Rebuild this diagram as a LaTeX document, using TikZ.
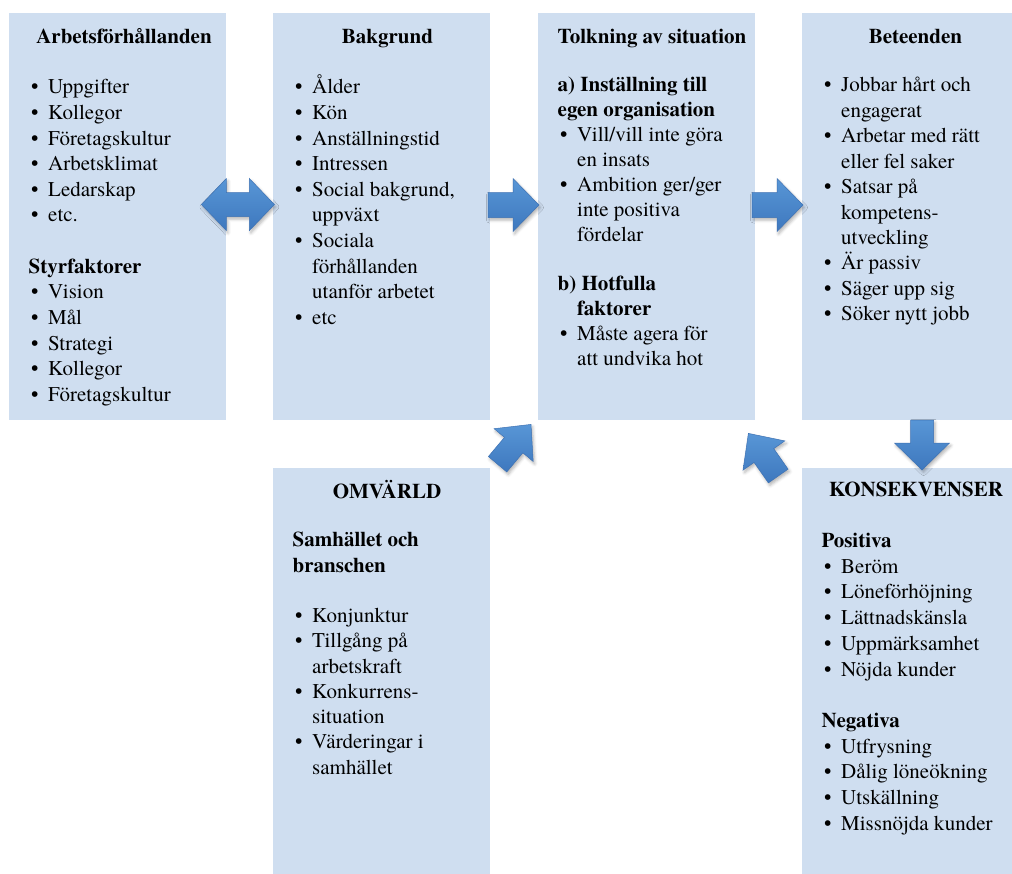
\documentclass[tikz,border=0pt]{standalone}
\usepackage{fontspec}
\setmainfont{texgyretermes}[Extension=.otf, UprightFont=*-regular, BoldFont=*-bold, ItalicFont=*-italic, BoldItalicFont=*-bolditalic]
\usetikzlibrary{calc,shadows.blur}
\definecolor{boxfill}{RGB}{207,222,240}
\definecolor{arrowtop}{RGB}{88,150,214}
\definecolor{arrowbot}{RGB}{62,120,190}
\definecolor{arrowedge}{RGB}{62,114,180}
\newcommand\bfs[1]{\fontsize{21}{#1}\selectfont}
\newcommand\bu{\hspace*{2.5pt}\makebox[17pt][l]{\textbullet}}
\newcommand\ct{\hspace*{19.5pt}}
\newcommand\fr{\rule{0pt}{22pt}}
% tip, angle, length, head length, head half width, shaft half width
\newcommand\blockarrow[6]{%
  \path[barrow, shift={(#1)}, rotate=#2] (0,0) -- (-#4,#5) -- (-#4,#6) -- (-#3,#6)
    -- (-#3,-#6) -- (-#4,-#6) -- (-#4,-#5) -- cycle;}
\begin{document}
\begin{tikzpicture}[x=1pt,y=-1pt,
  box/.style={fill=boxfill, draw=none, inner sep=0pt, anchor=north west, minimum width=217pt},
  ttl/.style={font=\bfs{25}\bfseries, anchor=base, inner sep=0pt},
  body/.style={anchor=north west, inner sep=0pt, align=left},
  barrow/.style={top color=arrowtop, bottom color=arrowbot, draw=arrowedge, line width=0.5pt,
    blur shadow={shadow xshift=1.5pt, shadow yshift=-2.5pt, shadow blur radius=3pt, shadow opacity=30}}]
\useasboundingbox (0,0) rectangle (1012,873);
\clip (0,0) rectangle (1012,873);
% boxes
\node[box, minimum height=407pt] (b1) at (9,13) {};
\node[box, minimum height=407pt] (b2) at (273,13) {};
\node[box, minimum height=407pt] (b3) at (538,13) {};
\node[box, minimum height=407pt] (b4) at (802,13) {};
\node[box, minimum height=420pt] (b5) at (273,468) {};
\node[box, minimum height=420pt] (b6) at (802,468) {};
% titles
\node[ttl] (t1) at ($(b1.north west)+(115,30)$) {Arbetsförhållanden};
\node[ttl] (t2) at ($(b2.north west)+(114.5,30)$) {Bakgrund};
\node[ttl] (t3) at ($(b3.north west)+(114,30)$) {Tolkning av situation};
\node[ttl] (t4) at ($(b4.north west)+(113.5,30)$) {Beteenden};
\node[ttl] (t5) at ($(b5.north west)+(114,30)$) {OMVÄRLD};
\node[ttl] (t6) at ($(b6.north west)+(114,28.7)$) {KONSEKVENSER};
% bodies
\node[body, font=\bfs{25.65}] (l1) at ($(b1.north west)+(19.5,58.5)$) {%
\fr\bu Uppgifter\\
\bu Kollegor\\
\bu Företagskultur\\
\bu Arbetsklimat\\
\bu Ledarskap\\
\bu etc.\\
\mbox{}\\
{\bfseries Styrfaktorer}\\
\bu Vision\\
\bu Mål\\
\bu Strategi\\
\bu Kollegor\\
\bu Företagskultur};
\node[body, font=\bfs{25.65}] (l2) at ($(b2.north west)+(19.5,58.5)$) {%
\fr\bu Ålder\\
\bu Kön\\
\bu Anställningstid\\
\bu Intressen\\
\bu Social bakgrund,\\
\ct uppväxt\\
\bu Sociala\\
\ct förhållanden\\
\ct utanför arbetet\\
\bu etc};
\node[body, font=\bfs{24.85}] (l3) at ($(b3.north west)+(19.5,56.7)$) {%
\fr{\bfseries a) Inställning till}\\
{\bfseries egen organisation}\\
\bu Vill/vill inte göra\\
\ct en insats\\
\bu Ambition ger/ger\\
\ct inte positiva\\
\ct fördelar\\
\mbox{}\\
{\bfseries b) Hotfulla}\\
\ct{\bfseries faktorer}\\
\bu Måste agera för\\
\ct att undvika hot};
\node[body, font=\bfs{25.44}] (l4) at ($(b4.north west)+(19.5,56.7)$) {%
\fr\bu Jobbar hårt och\\
\ct engagerat\\
\bu Arbetar med rätt\\
\ct eller fel saker\\
\bu Satsar på\\
\ct kompetens-\\
\ct utveckling\\
\bu Är passiv\\
\bu Säger upp sig\\
\bu Söker nytt jobb};
\node[body, font=\bfs{25.26}] (l5) at ($(b5.north west)+(19.5,56.7)$) {%
\fr{\bfseries Samhället och}\\
{\bfseries branschen}\\
\mbox{}\\
\bu Konjunktur\\
\bu Tillgång på\\
\ct arbetskraft\\
\bu Konkurrens-\\
\ct situation\\
\bu Värderingar i\\
\ct samhället};
\node[body, font=\bfs{25.7}] (l6) at ($(b6.north west)+(19.5,57.3)$) {%
\fr{\bfseries Positiva}\\
\bu Beröm\\
\bu Löneförhöjning\\
\bu Lättnadskänsla\\
\bu Uppmärksamhet\\
\bu Nöjda kunder\\
\mbox{}\\
{\bfseries Negativa}\\
\bu Utfrysning\\
\bu Dålig löneökning\\
\bu Utskällning\\
\bu Missnöjda kunder};
% arrow anchor points
\coordinate (d12) at ($(b1.north east)+(-25,191.5)$);
\coordinate (a23) at ($(b3.north west)+(1,192)$);
\coordinate (a34) at ($(b4.north west)+(1,192)$);
\coordinate (a46) at ($(b6.north west)+(120,2)$);
\coordinate (a53) at ($(b3.south west)+(-7,4)$);
\coordinate (a63) at ($(b3.south east)+(-7,13)$);
% double arrow
\path[barrow, shift={(d12)}] (0,0) -- (25,-26) -- (25,-12) -- (48,-12) -- (48,-26) -- (73,0)
  -- (48,26) -- (48,12) -- (25,12) -- (25,26) -- cycle;
\blockarrow{a23}{0}{51}{26}{26.5}{12.5}
\blockarrow{a34}{0}{51}{26}{26.5}{12.5}
\blockarrow{a46}{-90}{50}{27}{27.5}{11.5}
\blockarrow{a53}{50}{52}{27}{25.5}{12}
\blockarrow{a63}{125}{52}{27}{25.5}{12}
\end{tikzpicture}
\end{document}
